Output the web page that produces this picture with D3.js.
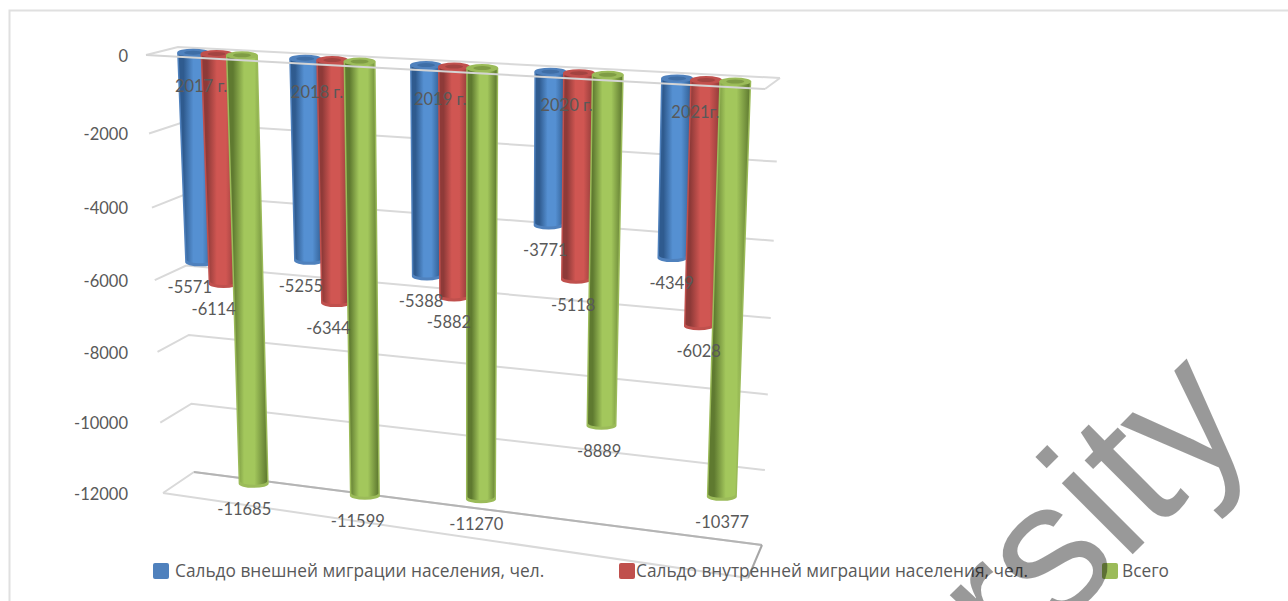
<!DOCTYPE html>
<html lang="ru">
<head>
<meta charset="utf-8">
<title>Сальдо миграции населения</title>
<script src="https://cdn.jsdelivr.net/npm/d3@7"></script>
<style>
html, body { margin: 0; background: #fff; overflow: hidden; }
svg { display: block; }
text { fill: #595959; }
.label { font-family: Lato, "Open Sans", sans-serif; font-size: 16.5px; }
.legend { font-family: "Open Sans", sans-serif; font-size: 17.3px; }
</style>
</head>
<body>
<div id="chart"></div>
<script>
// data
var years = ["2017 г.", "2018 г.", "2019 г.", "2020 г.", "2021г."];
var seriesNames = ["Сальдо внешней миграции населения, чел.", "Сальдо внутренней миграции населения, чел.", "Всего"];
var external = [-5571, -5255, -5388, -3771, -4349];
var internal = [-6114, -6344, -5882, -5118, -6028];
var total = [-11685, -11599, -11270, -8889, -10377];
var valueTicks = [0, -2000, -4000, -6000, -8000, -10000, -12000];

var seriesValues = [external, internal, total];

// colours: rim, gradient edge, gradient middle, top cap inner
var palette = [
  {rim: "#4f81bd", dark: "#2f5b8f", mid: "#5590d2", cap: "#3f6ea6"},
  {rim: "#c0504d", dark: "#8e3a38", mid: "#d05652", cap: "#a34441"},
  {rim: "#9bbb59", dark: "#5f7a30", mid: "#a3c75c", cap: "#7f9c45"}
];

var width = 1288, height = 601;

var svg = d3.select("#chart").append("svg")
    .attr("width", width)
    .attr("height", height);

// 3D box of the chart, four vertical edges
var backLeftX = d3.scaleLinear().range([178, 194]);
var backLeftY = d3.scaleLinear().range([47, 472]);
var backRightX = d3.scaleLinear().range([780, 762]);
var backRightY = d3.scaleLinear().range([78, 545]);
var frontLeftX = d3.scaleLinear().range([146, 163]);
var frontLeftY = d3.scaleLinear().range([55, 493]);
var frontRightX = d3.scaleLinear().range([765, 748]);
var frontRightY = d3.scaleLinear().range([89, 578]);

// value to share of the box height, a bit squeezed by perspective
var depthOfValue = d3.scalePow().exponent(0.96).domain([0, 12000]).range([0, 1]);

// u runs left to right, w runs back to front
function project(u, w, v) {
  var f = depthOfValue(Math.abs(v));
  var bx = backLeftX(f) + (backRightX(f) - backLeftX(f)) * u;
  var by = backLeftY(f) + (backRightY(f) - backLeftY(f)) * u;
  var fx = frontLeftX(f) + (frontRightX(f) - frontLeftX(f)) * u;
  var fy = frontLeftY(f) + (frontRightY(f) - frontLeftY(f)) * u;
  return [bx + (fx - bx) * w, by + (fy - by) * w];
}

// bar slots along the category axis, spacing grows to the right
var groupStep = 4.4;
var slotScale = d3.scalePow().exponent(1.055)
    .domain([0, groupStep * (years.length - 1) + seriesValues.length - 1])
    .range([0.051, 0.939]);

function slotU(cat, ser) {
  return slotScale(groupStep * cat + ser);
}

var line = d3.line();
var radiusTop = 16, radiusBottom = 15, capRy = 4, endDrop = 2;

// gradients
var defs = svg.append("defs");
var grads = defs.selectAll("linearGradient").data(palette).join("linearGradient")
    .attr("id", function(d, i) { return "cyl" + i; })
    .attr("x1", 0).attr("x2", 1).attr("y1", 0).attr("y2", 0);
grads.append("stop").attr("offset", "0%").attr("stop-color", function(d) { return d.dark; });
grads.append("stop").attr("offset", "14%").attr("stop-color", function(d) { return d.dark; });
grads.append("stop").attr("offset", "42%").attr("stop-color", function(d) { return d.mid; });
grads.append("stop").attr("offset", "68%").attr("stop-color", function(d) { return d.mid; });
grads.append("stop").attr("offset", "100%").attr("stop-color", function(d) { return d.dark; });

// walls
var grid = svg.append("g").attr("fill", "none").attr("stroke", "#d9d9d9").attr("stroke-width", 2);
grid.append("path").attr("d", "M9.5,601V10.5H1288").attr("stroke", "#e0e0e0");
valueTicks.forEach(function(v) {
  grid.append("path").attr("d", line([project(0, 1, v), project(0, 0, v), project(1, 0, v)]));
});
grid.append("path").attr("d", line([project(1, 0, 0), project(1, 1, 0)]));

// floor edges
var floorV = valueTicks[valueTicks.length - 1];
grid.append("path").attr("d", line([project(0, 0, floorV), project(1, 0, floorV)])).attr("stroke", "#b4b4b4");
grid.append("path").attr("d", line([project(1, 0, floorV), project(1, 1, floorV)])).attr("stroke", "#a6a6a6");
grid.append("path").attr("d", line([project(0, 1, floorV), project(1, 1, floorV)]));

// bars
function bodyPath(t, b, rt, rb, ry) {
  return "M" + (t[0] - rt) + "," + t[1] +
    "L" + (b[0] - rb) + "," + b[1] +
    "A" + rb + "," + ry + " 0 0 0 " + (b[0] + rb) + "," + b[1] +
    "L" + (t[0] + rt) + "," + t[1] + "Z";
}

var bars = svg.append("g");
years.forEach(function(year, c) {
  seriesValues.forEach(function(values, s) {
    var u = slotU(c, s);
    var t = project(u, 0.5, 0);
    var b = project(u, 0.5, values[c]);
    b[1] += endDrop;
    var g = bars.append("g");
    g.append("path")
        .attr("d", bodyPath(t, b, radiusTop, radiusBottom, capRy))
        .attr("fill", palette[s].rim);
    g.append("path")
        .attr("d", bodyPath(t, [b[0], b[1] - 2.5], radiusTop - 1.5, radiusBottom - 1.5, capRy - 0.5))
        .attr("fill", "url(#cyl" + s + ")");
    g.append("ellipse")
        .attr("cx", t[0]).attr("cy", t[1])
        .attr("rx", radiusTop).attr("ry", capRy)
        .attr("fill", palette[s].rim);
    g.append("ellipse")
        .attr("cx", t[0]).attr("cy", t[1])
        .attr("rx", radiusTop - 7).attr("ry", capRy - 2)
        .attr("fill", palette[s].cap);
  });
});

// front edge of the zero plane runs over the bars
svg.append("path")
    .attr("d", line([project(0, 1, 0), project(1, 1, 0)]))
    .attr("fill", "none")
    .attr("stroke", "#d4d4d4")
    .attr("stroke-width", 2);

// value axis
var yAxisScale = d3.scalePow().exponent(0.96).domain([0, 12000]).range([frontLeftY(0) + 1, frontLeftY(1) + 1]);
var axisG = svg.append("g")
    .attr("transform", "translate(128,0)")
    .call(d3.axisLeft(d3.scaleLinear().domain(valueTicks).range(valueTicks.map(function(v) { return yAxisScale(-v); })))
        .tickValues(valueTicks)
        .tickSize(0)
        .tickPadding(0)
        .tickFormat(String));
axisG.select(".domain").remove();
axisG.selectAll("text").attr("class", "label").attr("fill", null);
axisG.attr("font-family", null).attr("font-size", null);

// category labels lie over the bars
var yearShift = d3.scaleLinear().domain([0, 1]).range([-4, 5]);
svg.append("g").selectAll("text").data(years).join("text")
    .attr("class", "label")
    .attr("text-anchor", "middle")
    .attr("x", function(d, i) { var u = slotU(i, 0.5); return project(u, 0.5, 0)[0] + yearShift(u); })
    .attr("y", function(d, i) { return project(slotU(i, 0.5), 0.5, 0)[1] + 39; })
    .text(function(d) { return d; });

// value labels under the bar ends
var labelShift = d3.scaleLinear().domain([0, 1]).range([-11, 1]);
var labels = svg.append("g");
seriesValues.forEach(function(values, s) {
  labels.selectAll("text.s" + s).data(values).join("text")
      .attr("class", "label s" + s)
      .attr("text-anchor", "middle")
      .attr("x", function(d, i) { var u = slotU(i, s); return project(u, 0.5, d)[0] + labelShift(u); })
      .attr("y", function(d, i) { return project(slotU(i, s), 0.5, d)[1] + 33; })
      .text(function(d) { return d; });
});

// legend
var legendX = d3.scaleOrdinal().domain(seriesNames).range([153, 619, 1102]);
var legendGap = d3.scaleOrdinal().domain(seriesNames).range([22, 17, 20]);
var legend = svg.append("g").selectAll("g").data(seriesNames).join("g")
    .attr("transform", function(d) { return "translate(" + legendX(d) + ",563)"; });
legend.append("rect")
    .attr("width", 16).attr("height", 16).attr("rx", 2)
    .attr("fill", function(d, i) { return palette[i].rim; });
legend.append("text")
    .attr("class", "legend")
    .attr("x", function(d) { return legendGap(d); })
    .attr("y", 13.5)
    .text(function(d) { return d; });

// watermark across the lower right corner
svg.append("text")
    .attr("transform", "translate(1258,429) rotate(-45)")
    .attr("text-anchor", "end")
    .attr("font-family", "Liberation Sans")
    .attr("font-size", 190)
    .style("fill", "#000")
    .style("fill-opacity", 0.4)
    .text("University");
</script>
</body>
</html>
